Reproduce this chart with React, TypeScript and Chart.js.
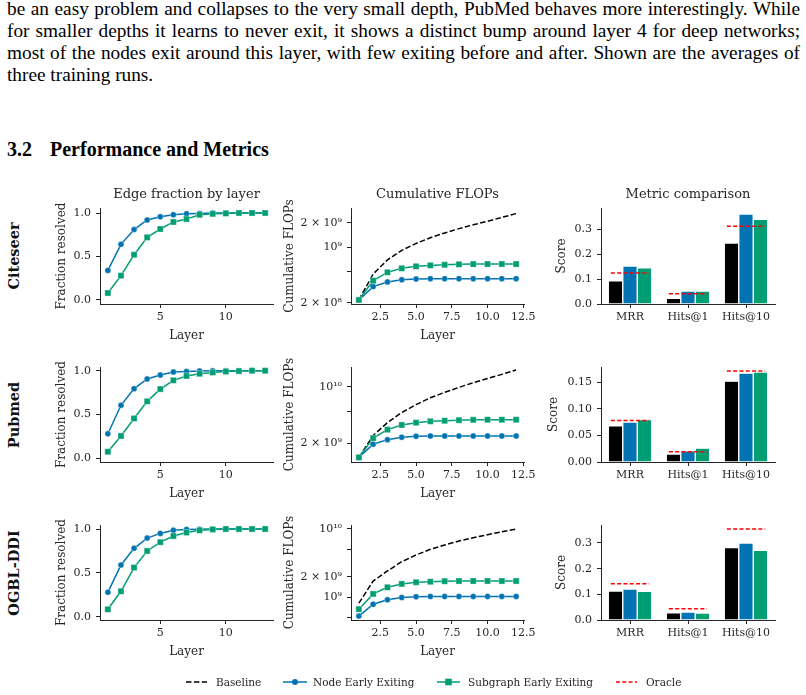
import React, { useEffect, useRef } from 'react';
import { Chart, registerables } from 'chart.js';

Chart.register(...registerables);

// ---------------- data ----------------
const DATASET_NAMES = ['Citeseer', 'Pubmed', 'OGBL-DDI'];
const LEGEND_LABELS = ['Baseline', 'Node Early Exiting', 'Subgraph Early Exiting', 'Oracle'];
const PANEL_TITLES = ['Edge fraction by layer', 'Cumulative FLOPs', 'Metric comparison'];
const LAYERS_EDGE = [1, 2, 3, 4, 5, 6, 7, 8, 9, 10, 11, 12, 13];
const LAYERS_FLOPS = [1, 2, 3, 4, 5, 6, 7, 8, 9, 10, 11, 12];
const METRICS = ['MRR', 'Hits@1', 'Hits@10'];

const CITESEER_NODE_FRAC = [0.34, 0.64, 0.81, 0.92, 0.957, 0.98, 0.99, 0.995, 1.0, 1.0, 1.0, 1.0, 1.0];
const CITESEER_SUB_FRAC = [0.08, 0.28, 0.52, 0.72, 0.816, 0.897, 0.93, 0.98, 0.99, 0.995, 1.0, 1.0, 1.0];
const PUBMED_NODE_FRAC = [0.28, 0.605, 0.795, 0.905, 0.95, 0.985, 0.992, 0.996, 0.998, 1.0, 1.0, 1.0, 1.0];
const PUBMED_SUB_FRAC = [0.075, 0.255, 0.455, 0.65, 0.79, 0.89, 0.94, 0.965, 0.98, 0.99, 0.995, 1.0, 1.0];
const DDI_NODE_FRAC = [0.278, 0.59, 0.78, 0.897, 0.95, 0.985, 0.995, 0.998, 1.0, 1.0, 1.0, 1.0, 1.0];
const DDI_SUB_FRAC = [0.084, 0.29, 0.56, 0.75, 0.85, 0.92, 0.96, 0.985, 0.995, 1.0, 1.0, 1.0, 1.0];

const CITESEER_BASE_FLOPS = [2.18e8, 4.6e8, 6.9e8, 9.1e8, 1.11e9, 1.31e9, 1.5e9, 1.7e9, 1.9e9, 2.1e9, 2.35e9, 2.62e9];
const CITESEER_NODE_FLOPS = [2.18e8, 3.2e8, 3.66e8, 3.9e8, 3.99e8, 4.02e8, 4.02e8, 4.02e8, 4.02e8, 4.02e8, 4.02e8, 4.02e8];
const CITESEER_SUB_FLOPS = [2.18e8, 3.8e8, 4.83e8, 5.42e8, 5.74e8, 5.9e8, 6.0e8, 6.08e8, 6.12e8, 6.13e8, 6.13e8, 6.13e8];
const PUBMED_BASE_FLOPS = [1.34e9, 2.5e9, 3.6e9, 4.8e9, 6.0e9, 7.3e9, 8.5e9, 9.8e9, 1.12e10, 1.26e10, 1.42e10, 1.61e10];
const PUBMED_NODE_FLOPS = [1.34e9, 1.95e9, 2.22e9, 2.37e9, 2.44e9, 2.46e9, 2.46e9, 2.46e9, 2.46e9, 2.46e9, 2.46e9, 2.46e9];
const PUBMED_SUB_FLOPS = [1.34e9, 2.32e9, 2.95e9, 3.37e9, 3.6e9, 3.74e9, 3.8e9, 3.86e9, 3.9e9, 3.91e9, 3.91e9, 3.91e9];
const DDI_BASE_FLOPS = [8.2e8, 1.73e9, 2.43e9, 3.32e9, 4.16e9, 5.05e9, 5.82e9, 6.67e9, 7.45e9, 8.25e9, 9.1e9, 1.0e10];
const DDI_NODE_FLOPS = [5.3e8, 7.9e8, 9.2e8, 9.9e8, 1.02e9, 1.03e9, 1.03e9, 1.03e9, 1.03e9, 1.03e9, 1.03e9, 1.03e9];
const DDI_SUB_FLOPS = [6.7e8, 1.12e9, 1.4e9, 1.57e9, 1.66e9, 1.69e9, 1.72e9, 1.73e9, 1.73e9, 1.73e9, 1.73e9, 1.73e9];

const CITESEER_BASE_SCORE = [0.093, 0.023, 0.244];
const CITESEER_NODE_SCORE = [0.152, 0.052, 0.36];
const CITESEER_SUB_SCORE = [0.145, 0.052, 0.339];
const CITESEER_ORACLE = [0.124, 0.041, 0.311];
const PUBMED_BASE_SCORE = [0.068, 0.015, 0.152];
const PUBMED_NODE_SCORE = [0.075, 0.021, 0.167];
const PUBMED_SUB_SCORE = [0.08, 0.026, 0.169];
const PUBMED_ORACLE = [0.078, 0.0195, 0.171];
const DDI_BASE_SCORE = [0.113, 0.028, 0.282];
const DDI_NODE_SCORE = [0.121, 0.031, 0.3];
const DDI_SUB_SCORE = [0.112, 0.027, 0.271];
const DDI_ORACLE = [0.141, 0.044, 0.354];

// tick values
const EDGE_X_TICKS = [5, 10];
const EDGE_Y_TICKS = [0, 0.5, 1.0];
const FLOPS_X_TICKS = [2.5, 5, 7.5, 10, 12.5];
const CITESEER_FLOPS_TICKS = [2e8, 5e8, 1e9, 2e9];
const PUBMED_FLOPS_TICKS = [2e9, 5e9, 1e10];
const DDI_FLOPS_TICKS = [5e8, 1e9, 2e9, 5e9, 1e10];
const CITESEER_SCORE_TICKS = [0, 0.1, 0.2, 0.3];
const PUBMED_SCORE_TICKS = [0, 0.05, 0.1, 0.15];
const DDI_SCORE_TICKS = [0, 0.1, 0.2, 0.3];

const PARA_LINES = [
  'be an easy problem and collapses to the very small depth, PubMed behaves more interestingly. While',
  'for smaller depths it learns to never exit, it shows a distinct bump around layer 4 for deep networks;',
  'most of the nodes exit around this layer, with few exiting before and after. Shown are the averages of',
  'three training runs.',
];

// ---------------- style / layout ----------------
const FONT = "'DejaVu Serif', serif";
const TEXT = '#262626';
const BLUE = '#0173B2';
const GREEN = '#029E73';
const BLACK = '#000000';
const RED = '#FF0000';
const TICK_FS = 11;
const AX_FS = 12;
const AX_LH = AX_FS * 1.2;
const TITLE_FS = 13;
const TITLE_LH = TITLE_FS * 1.2;

const COLS = [
  { L: 100, R: 273 },
  { L: 351, R: 524 },
  { L: 601, R: 775 },
];
const ROW_BOX = [
  { T: 208, B: 304 },
  { T: 367, B: 462 },
  { T: 525, B: 620 },
];
const Y_TITLE_X = [
  [62, 290, 562],
  [62, 290, 554],
  [62, 290, 562],
];
const EDGE_Y_RANGE = [[-0.046, 1.0575], [-0.042, 1.042], [-0.038, 1.046]];
const FLOPS_Y_RANGE = [[1.94e8, 3.08e9], [1.176e9, 1.75e10], [4.65e8, 1.144e10]];
const SCORE_Y_MAX = [0.384, 0.1786, 0.37];

type Frame = {
  left: number; top: number; width: number; height: number;
  pad: { left: number; right: number; top: number; bottom: number };
  yW: number; xH: number; titlePad: { top: number; bottom: number } | null; yTitleX: number;
};

function makeFrame(L: number, T: number, R: number, B: number, yTitleX: number, xTitleY: number, titleY: number | null): Frame {
  const half = AX_LH / 2;
  const left = Math.floor(yTitleX - half) - 2;
  const padL = yTitleX - half - left;
  const yW = L - left - padL;
  const top = T - 45;
  const right = R + 25;
  const bottomExact = xTitleY + half;
  const bottom = Math.ceil(bottomExact) + 1;
  const padB = bottom - bottomExact;
  const xH = bottomExact - B;
  const pad = { left: padL, right: 25, top: 45, bottom: padB };
  let titlePad = null as { top: number; bottom: number } | null;
  if (titleY !== null) {
    pad.top = 0;
    titlePad = { top: titleY - top - TITLE_LH / 2, bottom: T - titleY - TITLE_LH / 2 };
  }
  return { left, top, width: right - left, height: bottom - top, pad, yW, xH, titlePad, yTitleX: yTitleX - left };
}

const SUP: Record<string, string> = { '0': '⁰', '1': '¹', '2': '²', '3': '³', '4': '⁴', '5': '⁵', '6': '⁶', '7': '⁷', '8': '⁸', '9': '⁹', '-': '⁻' };
function logLabel(v: number): string {
  const e = Math.floor(Math.log10(v) + 1e-9);
  const m = Math.round(v / Math.pow(10, e));
  const p = '10' + String(e).split('').map((c) => SUP[c]).join('');
  if (m === 1) return p;
  if (m === 2) return '2 × ' + p;
  return '';
}

function mkScale(o: {
  type: string; min?: number; max?: number; ticks?: number[]; fmt?: (v: number) => string;
  pad: number; fit: (s: any) => void; title?: string;
}) {
  const s: any = {
    type: o.type,
    grid: { display: true, drawOnChartArea: false, drawTicks: true, tickLength: 4, tickWidth: 1, tickColor: TEXT, offset: false },
    border: { display: true, color: TEXT, width: 1 },
    ticks: { font: { family: FONT, size: TICK_FS }, color: TEXT, padding: o.pad, maxRotation: 0, minRotation: 0, autoSkip: false },
    afterFit: o.fit,
  };
  if (o.min !== undefined) s.min = o.min;
  if (o.max !== undefined) s.max = o.max;
  if (o.ticks) {
    const tv = o.ticks;
    s.afterBuildTicks = (sc: any) => { sc.ticks = tv.map((v) => ({ value: v })); };
  }
  if (o.fmt) {
    const f = o.fmt;
    s.ticks.callback = (v: any) => f(Number(v));
  }
  if (o.title) s.title = { display: true, text: o.title, font: { family: FONT, size: AX_FS }, color: TEXT, padding: 0 };
  return s;
}

const yTitlePlugin = {
  id: 'yTitle',
  afterDraw(chart: any, _a: any, opts: any) {
    if (!opts || !opts.text) return;
    const { ctx, chartArea } = chart;
    ctx.save();
    ctx.translate(opts.x, (chartArea.top + chartArea.bottom) / 2);
    ctx.rotate(-Math.PI / 2);
    ctx.font = `${AX_FS}px ${FONT}`;
    ctx.fillStyle = TEXT;
    ctx.textAlign = 'center';
    ctx.textBaseline = 'middle';
    ctx.fillText(opts.text, 0, 0);
    ctx.restore();
  },
};

function oraclePlugin(values: number[]) {
  return {
    id: 'oracle',
    afterDatasetsDraw(chart: any) {
      const xs = chart.scales.x;
      const ys = chart.scales.y;
      const ctx = chart.ctx;
      const step = xs.getPixelForValue(1) - xs.getPixelForValue(0);
      ctx.save();
      ctx.strokeStyle = RED;
      ctx.lineWidth = 1.5;
      ctx.setLineDash([4, 2.3]);
      values.forEach((v, i) => {
        const cx = xs.getPixelForValue(i);
        const py = ys.getPixelForValue(v);
        ctx.beginPath();
        ctx.moveTo(cx - 0.33 * step, py);
        ctx.lineTo(cx + 0.33 * step, py);
        ctx.stroke();
      });
      ctx.restore();
    },
  };
}

function commonOptions(f: Frame, title: string | null, yTitle: string) {
  return {
    responsive: false,
    animation: false,
    events: [],
    layout: { padding: f.pad },
    plugins: {
      legend: { display: false },
      tooltip: { enabled: false },
      title: title && f.titlePad
        ? { display: true, text: title, fullSize: false, color: TEXT, font: { family: FONT, size: TITLE_FS, weight: 'normal' }, padding: f.titlePad }
        : { display: false },
      yTitle: { text: yTitle, x: f.yTitleX },
    },
  };
}

function lineSets(xs: number[], node: number[], sub: number[], base: number[] | null) {
  const pts = (arr: number[]) => xs.map((x, i) => ({ x, y: arr[i] }));
  const ds: any[] = [];
  if (base) {
    ds.push({ label: LEGEND_LABELS[0], data: pts(base), borderColor: BLACK, borderWidth: 1.5, borderDash: [5.5, 2.4], pointRadius: 0, order: 3 });
  }
  ds.push({
    label: LEGEND_LABELS[1], data: pts(node), borderColor: BLUE, backgroundColor: BLUE, borderWidth: 1.5,
    pointStyle: 'circle', pointRadius: 3, pointBackgroundColor: BLUE, pointBorderColor: 'rgba(255,255,255,0.45)', pointBorderWidth: 0.8, order: 2,
  });
  ds.push({
    label: LEGEND_LABELS[2], data: pts(sub), borderColor: GREEN, backgroundColor: GREEN, borderWidth: 1.5,
    pointStyle: 'rect', pointRadius: 4.3, pointBackgroundColor: GREEN, pointBorderColor: 'rgba(255,255,255,0.45)', pointBorderWidth: 0.8, order: 1,
  });
  return ds;
}

function edgeConfig(f: Frame, r: number, node: number[], sub: number[]) {
  const o: any = commonOptions(f, r === 0 ? PANEL_TITLES[0] : null, 'Fraction resolved');
  o.scales = {
    x: mkScale({ type: 'linear', min: 0.4, max: 13.6, ticks: EDGE_X_TICKS, fmt: (v) => String(v), pad: 3, fit: (s) => { s.height = f.xH; }, title: 'Layer' }),
    y: mkScale({ type: 'linear', min: EDGE_Y_RANGE[r][0], max: EDGE_Y_RANGE[r][1], ticks: EDGE_Y_TICKS, fmt: (v) => v.toFixed(1), pad: 5, fit: (s) => { s.width = f.yW; } }),
  };
  return { type: 'line', data: { datasets: lineSets(LAYERS_EDGE, node, sub, null) }, options: o, plugins: [yTitlePlugin] };
}

function flopsConfig(f: Frame, r: number, base: number[], node: number[], sub: number[], yt: number[]) {
  const o: any = commonOptions(f, r === 0 ? PANEL_TITLES[1] : null, 'Cumulative FLOPs');
  o.scales = {
    x: mkScale({ type: 'linear', min: 0.45, max: 12.55, ticks: FLOPS_X_TICKS, fmt: (v) => v.toFixed(1), pad: 3, fit: (s) => { s.height = f.xH; }, title: 'Layer' }),
    y: mkScale({ type: 'logarithmic', min: FLOPS_Y_RANGE[r][0], max: FLOPS_Y_RANGE[r][1], ticks: yt, fmt: logLabel, pad: 5, fit: (s) => { s.width = f.yW; } }),
  };
  return { type: 'line', data: { datasets: lineSets(LAYERS_FLOPS, node, sub, base) }, options: o, plugins: [yTitlePlugin] };
}

function scoreConfig(f: Frame, r: number, base: number[], node: number[], sub: number[], oracle: number[], yt: number[], dec: number) {
  const o: any = commonOptions(f, r === 0 ? PANEL_TITLES[2] : null, 'Score');
  const xs = mkScale({ type: 'category', pad: 3, fit: (s) => { s.height = f.xH; } });
  xs.offset = true;
  o.scales = {
    x: xs,
    y: mkScale({ type: 'linear', min: 0, max: SCORE_Y_MAX[r], ticks: yt, fmt: (v) => v.toFixed(dec), pad: 5, fit: (s) => { s.width = f.yW; } }),
  };
  const bar = (label: string, data: number[], color: string) => ({
    label, data, backgroundColor: color, borderColor: 'rgba(255,255,255,0.75)', borderWidth: 0.7,
    categoryPercentage: 0.75, barPercentage: 1.0,
  });
  return {
    type: 'bar',
    data: { labels: METRICS, datasets: [bar(LEGEND_LABELS[0], base, BLACK), bar(LEGEND_LABELS[1], node, BLUE), bar(LEGEND_LABELS[2], sub, GREEN)] },
    options: o,
    plugins: [yTitlePlugin, oraclePlugin(oracle)],
  };
}

const ROWS = [
  { edge: [CITESEER_NODE_FRAC, CITESEER_SUB_FRAC], flops: [CITESEER_BASE_FLOPS, CITESEER_NODE_FLOPS, CITESEER_SUB_FLOPS], flopsTicks: CITESEER_FLOPS_TICKS,
    score: [CITESEER_BASE_SCORE, CITESEER_NODE_SCORE, CITESEER_SUB_SCORE, CITESEER_ORACLE], scoreTicks: CITESEER_SCORE_TICKS, dec: 1 },
  { edge: [PUBMED_NODE_FRAC, PUBMED_SUB_FRAC], flops: [PUBMED_BASE_FLOPS, PUBMED_NODE_FLOPS, PUBMED_SUB_FLOPS], flopsTicks: PUBMED_FLOPS_TICKS,
    score: [PUBMED_BASE_SCORE, PUBMED_NODE_SCORE, PUBMED_SUB_SCORE, PUBMED_ORACLE], scoreTicks: PUBMED_SCORE_TICKS, dec: 2 },
  { edge: [DDI_NODE_FRAC, DDI_SUB_FRAC], flops: [DDI_BASE_FLOPS, DDI_NODE_FLOPS, DDI_SUB_FLOPS], flopsTicks: DDI_FLOPS_TICKS,
    score: [DDI_BASE_SCORE, DDI_NODE_SCORE, DDI_SUB_SCORE, DDI_ORACLE], scoreTicks: DDI_SCORE_TICKS, dec: 1 },
];

function ChartBox({ frame, config }: { frame: Frame; config: any }) {
  const ref = useRef<HTMLCanvasElement>(null);
  useEffect(() => {
    const chart = new Chart(ref.current as HTMLCanvasElement, config);
    return () => chart.destroy();
  }, []);
  return (
    <canvas
      ref={ref}
      width={frame.width}
      height={frame.height}
      style={{ position: 'absolute', left: frame.left, top: frame.top, width: frame.width, height: frame.height }}
    />
  );
}

function Legend() {
  const y = 682;
  const ox = 180;
  const oy = 672;
  const items: [string, number][] = [
    [LEGEND_LABELS[0], 216],
    [LEGEND_LABELS[1], 313],
    [LEGEND_LABELS[2], 468],
    [LEGEND_LABELS[3], 646],
  ];
  return (
    <>
      <svg style={{ position: 'absolute', left: ox, top: oy }} width={480} height={20}>
        <line x1={186 - ox} y1={y - oy} x2={207 - ox} y2={y - oy} stroke={BLACK} strokeWidth={1.5} strokeDasharray="5.5 2.4" />
        <line x1={283 - ox} y1={y - oy} x2={307 - ox} y2={y - oy} stroke={BLUE} strokeWidth={1.5} />
        <circle cx={295 - ox} cy={y - oy} r={3} fill={BLUE} />
        <line x1={437 - ox} y1={y - oy} x2={460 - ox} y2={y - oy} stroke={GREEN} strokeWidth={1.5} />
        <rect x={448.5 - 3.3 - ox} y={y - oy - 3.3} width={6.6} height={6.6} fill={GREEN} />
        <line x1={616 - ox} y1={y - oy} x2={637 - ox} y2={y - oy} stroke={RED} strokeWidth={1.5} strokeDasharray="4 2.3" />
      </svg>
      {items.map(([t, x]) => (
        <span key={t} style={{ position: 'absolute', left: x, top: y - 8, font: `10.5px ${FONT}`, lineHeight: '16px', color: TEXT, whiteSpace: 'nowrap' }}>{t}</span>
      ))}
    </>
  );
}

export default function App() {
  const panels: { key: string; frame: Frame; config: any }[] = [];
  ROWS.forEach((row, r) => {
    const { T, B } = ROW_BOX[r];
    const titleY = r === 0 ? 195 : null;
    const f0 = makeFrame(COLS[0].L, T, COLS[0].R, B, Y_TITLE_X[r][0], B + 32, titleY);
    const f1 = makeFrame(COLS[1].L, T, COLS[1].R, B, Y_TITLE_X[r][1], B + 32, titleY);
    const f2 = makeFrame(COLS[2].L, T, COLS[2].R, B, Y_TITLE_X[r][2], B + 32, titleY);
    panels.push({ key: `e${r}`, frame: f0, config: edgeConfig(f0, r, row.edge[0], row.edge[1]) });
    panels.push({ key: `f${r}`, frame: f1, config: flopsConfig(f1, r, row.flops[0], row.flops[1], row.flops[2], row.flopsTicks) });
    panels.push({ key: `s${r}`, frame: f2, config: scoreConfig(f2, r, row.score[0], row.score[1], row.score[2], row.score[3], row.scoreTicks, row.dec) });
  });

  return (
    <div style={{ position: 'absolute', left: 0, top: 0, width: 806, height: 695, background: '#ffffff', overflow: 'hidden' }}>
      {PARA_LINES.map((t, i) => (
        <div
          key={i}
          style={{
            position: 'absolute', left: 7, top: -2 + 22 * i, width: 793,
            font: "19.3px 'Liberation Serif', serif", lineHeight: '22px', color: '#000',
            textAlign: i < 3 ? 'justify' : 'left', textAlignLast: i < 3 ? 'justify' : 'left',
          }}
        >
          {t}
        </div>
      ))}
      <div style={{ position: 'absolute', left: 7, top: 138, font: "bold 20px 'Liberation Serif', serif", lineHeight: '22px', color: '#000', whiteSpace: 'nowrap' }}>3.2</div>
      <div style={{ position: 'absolute', left: 50, top: 138, font: "bold 20px 'Liberation Serif', serif", lineHeight: '22px', color: '#000', whiteSpace: 'nowrap' }}>Performance and Metrics</div>
      {DATASET_NAMES.map((n, r) => (
        <div
          key={n}
          style={{
            position: 'absolute', left: 13, top: (ROW_BOX[r].T + ROW_BOX[r].B) / 2,
            transform: 'translate(-50%, -50%) rotate(-90deg)', font: `bold 14.5px ${FONT}`,
            whiteSpace: 'nowrap', color: '#111',
          }}
        >
          {n}
        </div>
      ))}
      {panels.map((p) => (
        <ChartBox key={p.key} frame={p.frame} config={p.config} />
      ))}
      <Legend />
    </div>
  );
}
